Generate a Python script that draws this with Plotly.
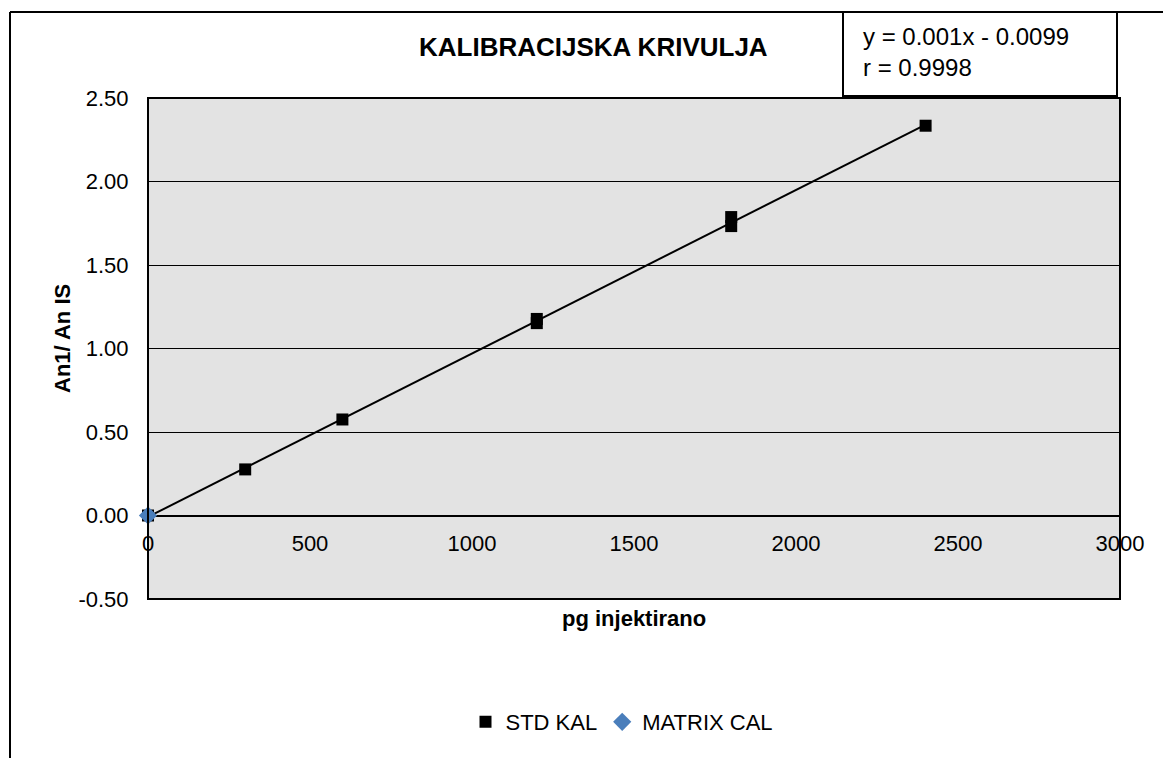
import numpy as np
import plotly.graph_objects as go

# ---- data ----
std_x = [0, 300, 600, 1200, 1200, 1800, 1800, 2400]
std_y = [0.0, 0.276, 0.575, 1.177, 1.152, 1.787, 1.733, 2.334]
matrix_x = [0]
matrix_y = [0.0]
x_ticks = [0, 500, 1000, 1500, 2000, 2500, 3000]
y_ticks = [-0.5, 0.0, 0.5, 1.0, 1.5, 2.0, 2.5]
title_text = "KALIBRACIJSKA KRIVULJA"
eq_text = "y = 0.001x - 0.0099<br>r = 0.9998"

# trendline from the data
slope, intercept = np.polyfit(std_x, std_y, 1)
trend_x = [min(std_x), max(std_x)]
trend_y = [slope * v + intercept for v in trend_x]

W, H = 1163, 758
L, R, T, B = 148, 1120, 98, 599


def px(x):
    return (x - L) / (R - L)


def py(y):
    return (B - y) / (B - T)


FONT = "Liberation Sans, Arial, sans-serif"

fig = go.Figure()
fig.add_trace(go.Scatter(x=trend_x, y=trend_y, mode="lines",
                         line=dict(color="black", width=2),
                         showlegend=False, hoverinfo="skip", cliponaxis=False))
fig.add_trace(go.Scatter(x=std_x, y=std_y, mode="markers", name="STD KAL",
                         marker=dict(symbol="square", size=12, color="black"),
                         cliponaxis=False))
fig.add_trace(go.Scatter(x=matrix_x, y=matrix_y, mode="markers", name="MATRIX CAL",
                         marker=dict(symbol="diamond", size=14, color="#4a7ebb"),
                         cliponaxis=False))

fig.update_layout(
    width=W, height=H,
    margin=dict(l=L, r=W - R, t=T, b=H - B, autoexpand=False),
    paper_bgcolor="white",
    plot_bgcolor="#e3e3e3",
    font=dict(family=FONT, size=22, color="black"),
    showlegend=True,
    legend=dict(orientation="h", x=px(622), y=py(722), xanchor="center", yanchor="middle",
                font=dict(size=22, family=FONT), itemwidth=30, bgcolor="rgba(0,0,0,0)"),
    xaxis=dict(range=[0, 3000], tickvals=x_ticks, ticktext=[str(v) for v in x_ticks],
               anchor="free", position=(0 - (-0.5)) / 3.0,
               showline=False, showgrid=False, zeroline=False,
               ticks="outside", ticklen=8, tickcolor="rgba(0,0,0,0)",
               tickfont=dict(size=22, family=FONT), fixedrange=True),
    yaxis=dict(range=[-0.5, 2.5], tickvals=y_ticks,
               ticktext=["%.2f" % v for v in y_ticks],
               showgrid=True, gridcolor="#000000", gridwidth=1,
               zeroline=True, zerolinecolor="#000000", zerolinewidth=1.5,
               showline=False, ticks="outside", ticklen=14, tickcolor="rgba(0,0,0,0)",
               tickfont=dict(size=22, family=FONT), fixedrange=True),
    annotations=[
        dict(text="<b>" + title_text + "</b>", x=px(593), y=py(47), xref="paper", yref="paper",
             showarrow=False, font=dict(size=26, family=FONT), xanchor="center", yanchor="middle"),
        dict(text=eq_text, x=px(861), y=py(52), xref="paper", yref="paper", align="left",
             showarrow=False, font=dict(size=24, family=FONT), xanchor="left", yanchor="middle"),
        dict(text="<b>pg injektirano</b>", x=px(634), y=py(618), xref="paper", yref="paper",
             showarrow=False, font=dict(size=22, family=FONT), xanchor="center", yanchor="middle"),
        dict(text="<b>An1/ An IS</b>", x=px(62), y=py(339), xref="paper", yref="paper",
             textangle=-90, showarrow=False, font=dict(size=22, family=FONT),
             xanchor="center", yanchor="middle"),
    ],
    shapes=[
        # plot frame
        dict(type="rect", xref="paper", yref="paper", x0=0, x1=1, y0=0, y1=1,
             line=dict(color="black", width=2), fillcolor="rgba(0,0,0,0)", layer="above"),
        # equation box
        dict(type="rect", xref="paper", yref="paper", x0=px(843), x1=px(1117),
             y0=py(96), y1=py(12), line=dict(color="black", width=2), fillcolor="white",
             layer="below"),
        # outer chart border (top & left)
        dict(type="line", xref="paper", yref="paper", x0=px(10), x1=px(1163),
             y0=py(12), y1=py(12), line=dict(color="black", width=2)),
        dict(type="line", xref="paper", yref="paper", x0=px(10), x1=px(10),
             y0=py(12), y1=py(758), line=dict(color="black", width=2)),
    ],
)

fig.write_html("out.html", config={"displayModeBar": False},
               post_script="document.body.style.margin='0';document.body.style.overflow='hidden';")
